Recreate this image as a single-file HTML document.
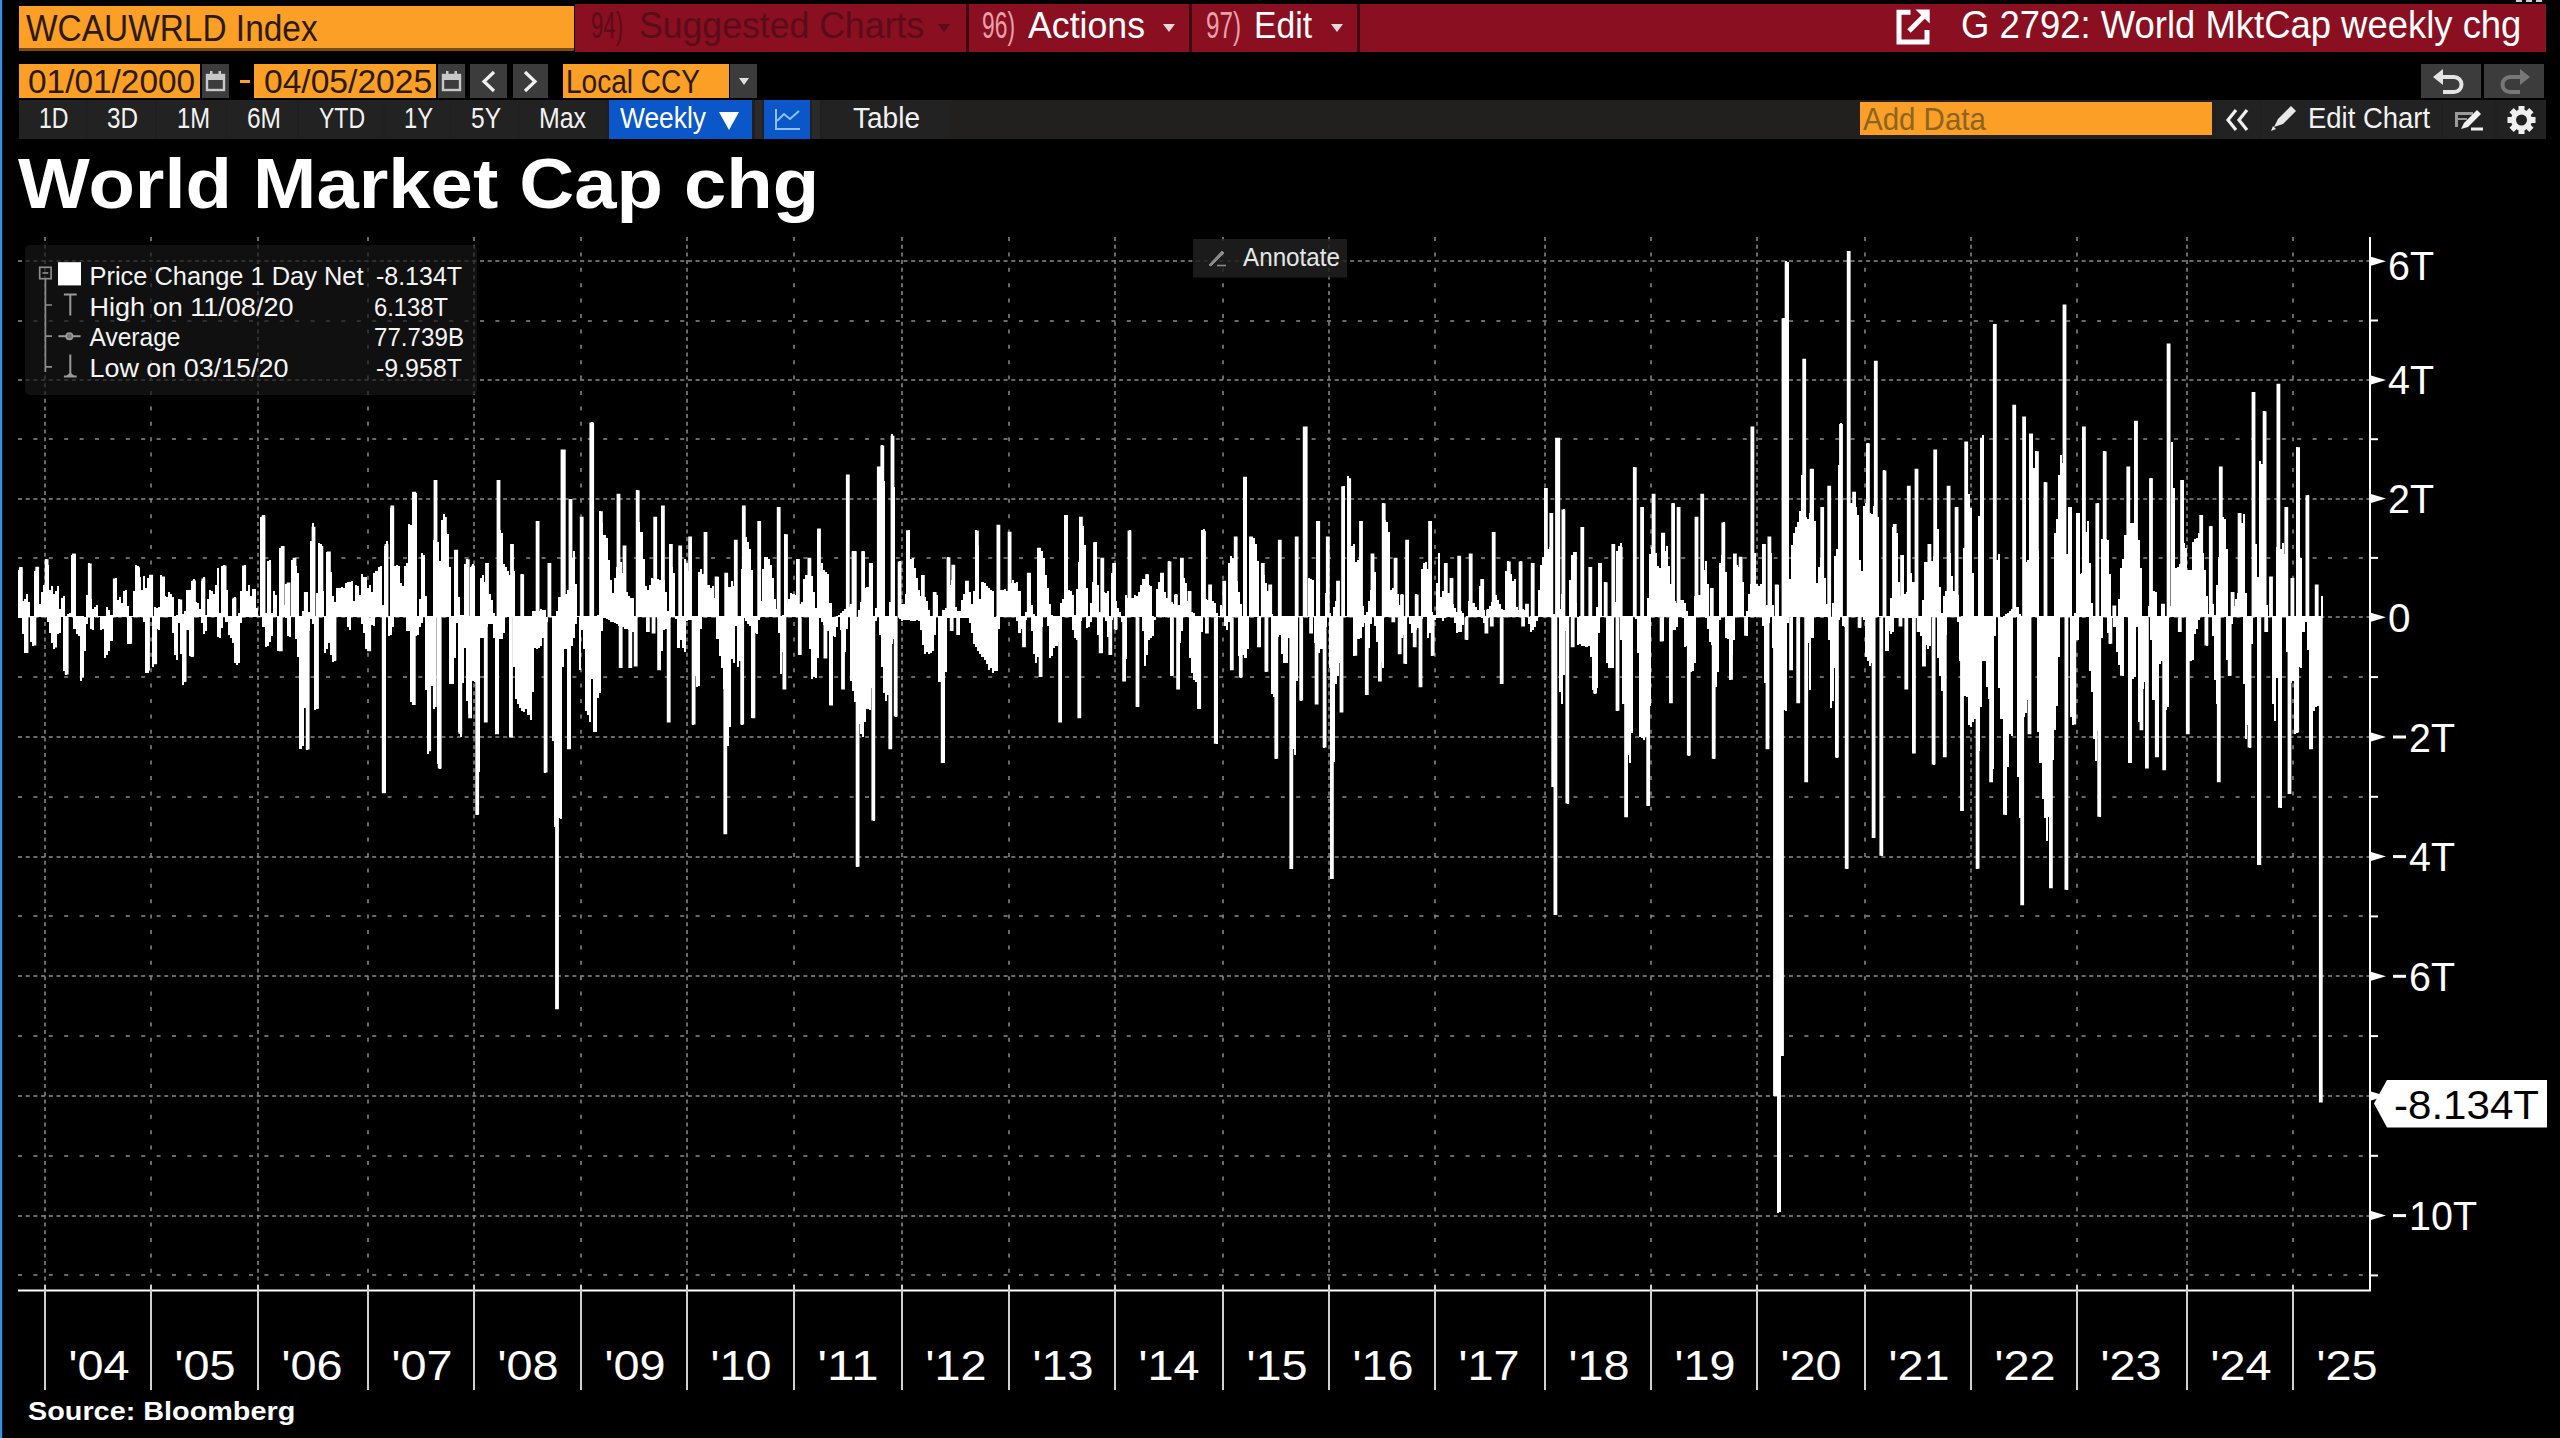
<!DOCTYPE html>
<html lang="en"><head><meta charset="utf-8"><title>WCAUWRLD Index - World Market Cap chg</title>
<style>
html,body{margin:0;padding:0;background:#000;}
body{width:2560px;height:1438px;position:relative;overflow:hidden;font-family:"Liberation Sans",sans-serif;}
.b{position:absolute;overflow:hidden;}
.b>svg{display:block;}
.t{position:absolute;white-space:pre;line-height:1;transform-origin:0 0;}
.tri{position:absolute;width:0;height:0;border-style:solid;border-color:transparent;border-width:8px 6px 0 6px;}
#strip{position:absolute;left:0;top:0;width:2px;height:1438px;background:#3b8fdb;border-right:1px solid #0a1a3a;}
</style></head><body>
<div id="strip"></div>
<!-- top command bar -->
<div class="b" style="left:575px;top:4px;width:1971px;height:48px;background:#8a0f20;"></div>
<div class="b" style="left:19px;top:6px;width:555px;height:42px;background:#fb9f26;border-bottom:3px solid #7a4a10;"></div>
<span class="t" style="left:26.0px;top:10.7px;font-size:36.3px;color:#2b1a05;transform:scaleX(0.921);">WCAUWRLD Index</span>
<div class="b" style="left:966px;top:4px;width:3px;height:48px;background:#3d0810;"></div>
<div class="b" style="left:1189px;top:4px;width:3px;height:48px;background:#3d0810;"></div>
<div class="b" style="left:1357px;top:4px;width:3px;height:48px;background:#3d0810;"></div>
<span class="t" style="left:591.0px;top:6.5px;font-size:37.8px;color:#5b0c1a;transform:scaleX(0.586);">94)</span>
<span class="t" style="left:639.0px;top:6.5px;font-size:37.8px;color:#5b0c1a;transform:scaleX(0.942);">Suggested Charts</span>
<div class="tri" style="left:938px;top:24px;border-top-color:#5b0c1a"></div>
<span class="t" style="left:982.0px;top:6.5px;font-size:37.8px;color:#e8a0a8;transform:scaleX(0.604);">96)</span>
<span class="t" style="left:1028.0px;top:6.5px;font-size:37.8px;color:#ffffff;transform:scaleX(0.944);">Actions</span>
<div class="tri" style="left:1163px;top:24px;border-top-color:#e6d8d8"></div>
<span class="t" style="left:1206.0px;top:6.5px;font-size:37.8px;color:#e8a0a8;transform:scaleX(0.641);">97)</span>
<span class="t" style="left:1254.0px;top:6.5px;font-size:37.8px;color:#ffffff;transform:scaleX(0.891);">Edit</span>
<div class="tri" style="left:1331px;top:24px;border-top-color:#e6d8d8"></div>
<svg class="b" style="left:1896px;top:9px" width="36" height="37" viewBox="0 0 36 37"><path d="M14.5 3.2H3V33H31V21" fill="none" stroke="#fff" stroke-width="5"/><path d="M13 22L30 5" stroke="#fff" stroke-width="5" fill="none"/><path d="M19.5 0.6H33.7V14.5z" fill="#fff"/></svg>
<span class="t" style="left:1960.5px;top:6.1px;font-size:38.7px;color:#ffffff;transform:scaleX(0.942);">G 2792: World MktCap weekly chg</span>
<div class="b" style="left:2516px;top:0px;width:6px;height:2px;background:#cfcfcf;"></div>
<div class="b" style="left:2525.5px;top:0px;width:6.0px;height:2px;background:#cfcfcf;"></div>
<div class="b" style="left:2535.5px;top:0px;width:6.0px;height:2px;background:#cfcfcf;"></div>
<!-- date row -->
<div class="b" style="left:19px;top:64px;width:181px;height:34px;background:#fb9f26;"></div>
<span class="t" style="left:28.0px;top:65.6px;font-size:32.6px;color:#2b1a05;transform:scaleX(1.025);">01/01/2000</span>
<div class="b" style="left:202px;top:64px;width:27px;height:34px;background:#3c3c3c;"><svg width="27" height="34" viewBox="0 0 27 34"><rect x="5" y="11" width="17" height="15" fill="none" stroke="#c8c8c8" stroke-width="2.4"/><rect x="5" y="11" width="17" height="5" fill="#c8c8c8"/><rect x="8" y="7" width="2.5" height="5" fill="#c8c8c8"/><rect x="16.5" y="7" width="2.5" height="5" fill="#c8c8c8"/></svg></div>
<div class="b" style="left:240px;top:80px;width:10px;height:3px;background:#fb9f26;"></div>
<div class="b" style="left:254px;top:64px;width:182px;height:34px;background:#fb9f26;"></div>
<span class="t" style="left:264.0px;top:65.6px;font-size:32.6px;color:#2b1a05;transform:scaleX(1.031);">04/05/2025</span>
<div class="b" style="left:438px;top:64px;width:27px;height:34px;background:#3c3c3c;"><svg width="27" height="34" viewBox="0 0 27 34"><rect x="5" y="11" width="17" height="15" fill="none" stroke="#c8c8c8" stroke-width="2.4"/><rect x="5" y="11" width="17" height="5" fill="#c8c8c8"/><rect x="8" y="7" width="2.5" height="5" fill="#c8c8c8"/><rect x="16.5" y="7" width="2.5" height="5" fill="#c8c8c8"/></svg></div>
<div class="b" style="left:470px;top:64px;width:37px;height:34px;background:#3c3c3c;"><svg width="37" height="34" viewBox="0 0 37 34"><path d="M24 8L14 17.5L24 27" fill="none" stroke="#f0f0f0" stroke-width="3.2"/></svg></div>
<div class="b" style="left:513px;top:64px;width:35px;height:34px;background:#3c3c3c;"><svg width="35" height="34" viewBox="0 0 35 34"><path d="M12 8L22 17.5L12 27" fill="none" stroke="#f0f0f0" stroke-width="3.2"/></svg></div>
<div class="b" style="left:563px;top:64px;width:166px;height:34px;background:#fb9f26;"></div>
<span class="t" style="left:566.0px;top:65.6px;font-size:32.6px;color:#2b1a05;transform:scaleX(0.861);">Local CCY</span>
<div class="b" style="left:730px;top:64px;width:27px;height:34px;background:#3c3c3c;"></div>
<div class="tri" style="left:739px;top:78px;border-top-color:#e0e0e0;border-width:7px 5px 0 5px"></div>
<div class="b" style="left:2421px;top:64px;width:60px;height:34px;background:#3c3c3c;"><svg width="60" height="34" viewBox="0 0 60 34"><path d="M19 13H33a7.5 7.5 0 0 1 0 15H22" fill="none" stroke="#e4e4e4" stroke-width="4"/><path d="M12 13L22 5V21z" fill="#e4e4e4"/></svg></div>
<div class="b" style="left:2484px;top:64px;width:60px;height:34px;background:#3c3c3c;"><svg width="60" height="34" viewBox="0 0 60 34"><path d="M39 13H26a7.5 7.5 0 0 0 0 15H36" fill="none" stroke="#787878" stroke-width="4"/><path d="M46 13L36 5V21z" fill="#787878"/></svg></div>
<!-- tab row -->
<div class="b" style="left:19px;top:100px;width:2527px;height:38.5px;background:#21201e;"></div>
<div class="b" style="left:19px;top:100px;width:67px;height:38.5px;background:#222222;"></div>
<span class="t" style="left:38.5px;top:104.4px;font-size:29.1px;color:#f2f2f2;transform:scaleX(0.794);">1D</span>
<div class="b" style="left:88px;top:100px;width:67px;height:38.5px;background:#222222;"></div>
<span class="t" style="left:107.0px;top:104.4px;font-size:29.1px;color:#f2f2f2;transform:scaleX(0.834);">3D</span>
<div class="b" style="left:157px;top:100px;width:69px;height:38.5px;background:#222222;"></div>
<span class="t" style="left:177.0px;top:104.4px;font-size:29.1px;color:#f2f2f2;transform:scaleX(0.817);">1M</span>
<div class="b" style="left:228px;top:100px;width:69px;height:38.5px;background:#222222;"></div>
<span class="t" style="left:247.0px;top:104.4px;font-size:29.1px;color:#f2f2f2;transform:scaleX(0.842);">6M</span>
<div class="b" style="left:299px;top:100px;width:84px;height:38.5px;background:#222222;"></div>
<span class="t" style="left:319.0px;top:104.4px;font-size:29.1px;color:#f2f2f2;transform:scaleX(0.791);">YTD</span>
<div class="b" style="left:385px;top:100px;width:65px;height:38.5px;background:#222222;"></div>
<span class="t" style="left:404.0px;top:104.4px;font-size:29.1px;color:#f2f2f2;transform:scaleX(0.816);">1Y</span>
<div class="b" style="left:452px;top:100px;width:66px;height:38.5px;background:#222222;"></div>
<span class="t" style="left:471.0px;top:104.4px;font-size:29.1px;color:#f2f2f2;transform:scaleX(0.844);">5Y</span>
<div class="b" style="left:520px;top:100px;width:86px;height:38.5px;background:#222222;"></div>
<span class="t" style="left:539.0px;top:104.4px;font-size:29.1px;color:#f2f2f2;transform:scaleX(0.856);">Max</span>
<div class="b" style="left:609px;top:100px;width:143px;height:38.5px;background:#0b57c9;"></div>
<span class="t" style="left:620.0px;top:104.4px;font-size:29.1px;color:#ffffff;transform:scaleX(0.907);">Weekly</span>
<div class="tri" style="left:719px;top:112px;border-top-color:#fff;border-width:18px 10px 0 10px"></div>
<div class="b" style="left:755px;top:100px;width:7px;height:38.5px;background:#2a2a2a;"></div>
<div class="b" style="left:764px;top:100px;width:46px;height:38.5px;background:#0b57c9;"><svg width="46" height="39" viewBox="0 0 46 39"><path d="M12 9V29H36" fill="none" stroke="#8fc0ff" stroke-width="2"/><path d="M13 21L20 14L26 19L35 11" fill="none" stroke="#8fc0ff" stroke-width="2"/></svg></div>
<div class="b" style="left:812px;top:100px;width:8px;height:38.5px;background:#2a2a2a;"></div>
<div class="b" style="left:823px;top:100px;width:128px;height:38.5px;background:#222222;"></div>
<span class="t" style="left:853.0px;top:104.4px;font-size:29.1px;color:#f2f2f2;transform:scaleX(0.964);">Table</span>
<div class="b" style="left:1860px;top:102px;width:352px;height:33px;background:#fb9f26;"></div>
<span class="t" style="left:1863.0px;top:104.2px;font-size:30.5px;color:#8a6420;transform:scaleX(0.966);">Add Data</span>
<div class="b" style="left:2216px;top:100px;width:43px;height:38.5px;background:#222222;"><svg width="43" height="39" viewBox="0 0 43 39"><path d="M20 10L12 20L20 30M31 10L23 20L31 30" fill="none" stroke="#f0f0f0" stroke-width="3.2"/></svg></div>
<div class="b" style="left:2262px;top:100px;width:179px;height:38.5px;background:#222222;"><svg width="40" height="39" viewBox="0 0 40 39"><path d="M12 27L16 19L29 6L34 11L21 24z" fill="#e8e8e8"/><path d="M9 31L11 26L14 29z" fill="#e8e8e8"/></svg></div>
<span class="t" style="left:2308.0px;top:104.4px;font-size:29.1px;color:#f2f2f2;transform:scaleX(0.944);">Edit Chart</span>
<div class="b" style="left:2443px;top:100px;width:51px;height:38.5px;background:#222222;"><svg width="51" height="39" viewBox="0 0 51 39"><path d="M12 12H30V15H15V27H12z" fill="#9a9a9a"/><path d="M12 19H24" stroke="#9a9a9a" stroke-width="2"/><path d="M18 29L21 23L34 10L38 14L25 27z" fill="#f0f0f0"/><path d="M28 29H40" stroke="#f0f0f0" stroke-width="3"/></svg></div>
<div class="b" style="left:2497px;top:100px;width:49px;height:38.5px;background:#222222;"><svg width="49" height="39" viewBox="0 0 49 39"><g transform="translate(24.5,20)"><g fill="#f0f0f0"><rect x="-3" y="-14" width="6" height="8" transform="rotate(0)"/><rect x="-3" y="-14" width="6" height="8" transform="rotate(45)"/><rect x="-3" y="-14" width="6" height="8" transform="rotate(90)"/><rect x="-3" y="-14" width="6" height="8" transform="rotate(135)"/><rect x="-3" y="-14" width="6" height="8" transform="rotate(180)"/><rect x="-3" y="-14" width="6" height="8" transform="rotate(225)"/><rect x="-3" y="-14" width="6" height="8" transform="rotate(270)"/><rect x="-3" y="-14" width="6" height="8" transform="rotate(315)"/></g><circle r="8" fill="none" stroke="#f0f0f0" stroke-width="5"/></g></svg></div>
<!-- title -->
<span class="t" style="left:18.0px;top:149.2px;font-size:70.6px;color:#ffffff;transform:scaleX(1.077);font-weight:bold;">World Market Cap chg</span>
<svg class="b" id="chart" style="left:0;top:0" width="2560" height="1438" viewBox="0 0 2560 1438" font-family="Liberation Sans, sans-serif">
<g stroke="#8c8c8c" fill="none">
<path d="M45 237V1290" stroke-width="1.5" stroke-dasharray="4 3.7"/>
<path d="M151 237V1290" stroke-width="1.5" stroke-dasharray="4 11.4"/>
<path d="M258 237V1290" stroke-width="1.5" stroke-dasharray="4 3.7"/>
<path d="M368 237V1290" stroke-width="1.5" stroke-dasharray="4 11.4"/>
<path d="M474 237V1290" stroke-width="1.5" stroke-dasharray="4 3.7"/>
<path d="M581 237V1290" stroke-width="1.5" stroke-dasharray="4 11.4"/>
<path d="M687 237V1290" stroke-width="1.5" stroke-dasharray="4 3.7"/>
<path d="M794 237V1290" stroke-width="1.5" stroke-dasharray="4 11.4"/>
<path d="M902 237V1290" stroke-width="1.5" stroke-dasharray="4 3.7"/>
<path d="M1009 237V1290" stroke-width="1.5" stroke-dasharray="4 11.4"/>
<path d="M1115 237V1290" stroke-width="1.5" stroke-dasharray="4 3.7"/>
<path d="M1223 237V1290" stroke-width="1.5" stroke-dasharray="4 11.4"/>
<path d="M1329 237V1290" stroke-width="1.5" stroke-dasharray="4 3.7"/>
<path d="M1435 237V1290" stroke-width="1.5" stroke-dasharray="4 11.4"/>
<path d="M1545 237V1290" stroke-width="1.5" stroke-dasharray="4 3.7"/>
<path d="M1651 237V1290" stroke-width="1.5" stroke-dasharray="4 11.4"/>
<path d="M1757 237V1290" stroke-width="1.5" stroke-dasharray="4 3.7"/>
<path d="M1865 237V1290" stroke-width="1.5" stroke-dasharray="4 11.4"/>
<path d="M1971 237V1290" stroke-width="1.5" stroke-dasharray="4 3.7"/>
<path d="M2077 237V1290" stroke-width="1.5" stroke-dasharray="4 11.4"/>
<path d="M2187 237V1290" stroke-width="1.5" stroke-dasharray="4 3.7"/>
<path d="M2293 237V1290" stroke-width="1.5" stroke-dasharray="4 11.4"/>
<path d="M18 261H2370" stroke-width="1.5" stroke-dasharray="4 3.7"/>
<path d="M18 321H2370" stroke-width="1.5" stroke-dasharray="4 11.4"/>
<path d="M18 380H2370" stroke-width="1.5" stroke-dasharray="4 3.7"/>
<path d="M18 439H2370" stroke-width="1.5" stroke-dasharray="4 11.4"/>
<path d="M18 499H2370" stroke-width="1.5" stroke-dasharray="4 3.7"/>
<path d="M18 558H2370" stroke-width="1.5" stroke-dasharray="4 11.4"/>
<path d="M18 617H2370" stroke-width="1.5" stroke-dasharray="4 3.7"/>
<path d="M18 677H2370" stroke-width="1.5" stroke-dasharray="4 11.4"/>
<path d="M18 737H2370" stroke-width="1.5" stroke-dasharray="4 3.7"/>
<path d="M18 797H2370" stroke-width="1.5" stroke-dasharray="4 11.4"/>
<path d="M18 857H2370" stroke-width="1.5" stroke-dasharray="4 3.7"/>
<path d="M18 916H2370" stroke-width="1.5" stroke-dasharray="4 11.4"/>
<path d="M18 976H2370" stroke-width="1.5" stroke-dasharray="4 3.7"/>
<path d="M18 1036H2370" stroke-width="1.5" stroke-dasharray="4 11.4"/>
<path d="M18 1096H2370" stroke-width="1.5" stroke-dasharray="4 3.7"/>
<path d="M18 1156H2370" stroke-width="1.5" stroke-dasharray="4 11.4"/>
<path d="M18 1216H2370" stroke-width="1.5" stroke-dasharray="4 3.7"/>
<path d="M18 1275H2370" stroke-width="1.5" stroke-dasharray="4 11.4"/>
</g>
<path fill="#ffffff" shape-rendering="crispEdges" d="M18 570H20V618H18zM20 567H22V618H20zM22 601H24V634H22zM24 599H26V653H24zM26 594H28V653H26zM28 602H30V617H28zM30 616H32V642H30zM32 616H34V646H32zM34 571H36V617H34zM36 567H39V617H36zM39 604H41V617H39zM41 592H43V617H41zM43 585H45V617H43zM45 559H47V617H45zM47 565H49V622H47zM49 590H51V633H49zM51 586H53V643H51zM53 594H55V649H53zM55 591H57V647H55zM57 586H59V634H57zM59 609H61V633H59zM61 598H63V617H61zM63 596H65V671H63zM65 616H67V675H65zM67 614H69V617H67zM69 613H71V617H69zM71 555H73V617H71zM73 554H76V629H73zM76 616H78V634H76zM78 616H80V636H78zM80 616H82V681H80zM82 616H84V677H82zM84 617H86V651H84zM86 595H88V624H86zM88 563H90V617H88zM90 599H92V629H90zM92 609H94V630H92zM94 607H96V617H94zM96 605H98V617H96zM98 616H100V617H98zM100 616H102V630H100zM102 616H104V629H102zM104 616H106V658H104zM106 607H108V655H106zM108 610H110V651H108zM110 615H113V641H110zM113 581H115V617H113zM115 578H117V617H115zM117 600H119V617H117zM119 597H121V617H119zM121 603H123V617H121zM123 591H125V617H123zM125 590H127V617H125zM127 606H129V644H127zM129 616H131V644H129zM131 616H133V617H131zM133 591H135V617H133zM135 565H137V617H135zM137 566H139V617H137zM139 577H141V617H139zM141 590H143V617H141zM143 576H145V622H143zM145 588H147V673H145zM147 578H149V673H147zM149 575H152V617H149zM152 616H154V667H152zM154 607H156V664H154zM156 608H158V629H156zM158 607H160V630H158zM160 575H162V617H160zM162 577H164V617H162zM164 596H166V617H164zM166 597H168V617H166zM168 592H170V617H168zM170 594H172V617H170zM172 597H174V633H172zM174 616H176V655H174zM176 615H178V660H176zM178 599H180V623H178zM180 600H182V654H180zM182 614H184V685H182zM184 611H186V682H184zM186 590H189V630H186zM189 590H191V656H189zM191 581H193V657H191zM193 579H195V617H193zM195 602H197V617H195zM197 603H199V617H197zM199 609H201V617H199zM201 581H203V623H201zM203 577H205V634H203zM205 615H207V631H205zM207 599H209V617H207zM209 590H211V617H209zM211 591H213V617H211zM213 594H215V617H213zM215 585H217V617H215zM217 568H219V637H217zM219 613H221V638H219zM221 566H223V628H221zM223 565H225V617H223zM225 590H228V622H225zM228 616H230V635H228zM230 616H232V638H230zM232 599H234V643H232zM234 597H236V663H234zM236 616H238V665H236zM238 613H240V663H238zM240 591H242V623H240zM242 566H244V617H242zM244 565H246V617H244zM246 591H248V617H246zM248 585H250V617H248zM250 596H252V617H250zM252 589H254V617H252zM254 589H256V617H254zM256 608H258V617H256zM258 616H260V617H258zM260 517H262V617H260zM262 515H265V627H262zM265 613H267V647H265zM267 561H269V646H267zM269 560H271V642H269zM271 613H273V636H271zM273 591H275V617H273zM275 595H277V617H275zM277 616H279V651H277zM279 548H281V651H279zM281 546H283V617H281zM283 605H285V617H283zM285 584H287V618H285zM287 583H289V636H287zM289 616H291V637H289zM291 560H293V617H291zM293 558H295V617H293zM295 566H297V639H295zM297 573H299V657H297zM299 616H302V749H299zM302 611H304V746H302zM304 592H306V708H304zM306 592H308V750H306zM308 612H310V631H308zM310 541H312V619H310zM312 523H314V624H312zM314 616H316V710H314zM316 593H318V709H316zM318 543H320V617H318zM320 544H322V617H320zM322 591H324V617H322zM324 616H326V653H324zM326 552H328V649H326zM328 552H330V643H328zM330 572H332V655H330zM332 596H334V662H332zM334 602H336V661H334zM336 588H338V617H336zM338 588H341V617H338zM341 587H343V617H341zM343 588H345V617H343zM345 583H347V617H345zM347 582H349V627H347zM349 582H351V630H349zM351 581H353V617H351zM353 601H355V617H353zM355 585H357V617H355zM357 586H359V617H357zM359 595H361V617H359zM361 574H363V624H361zM363 577H365V633H363zM365 577H367V649H365zM367 588H369V651H367zM369 585H371V617H369zM371 592H373V625H371zM373 573H375V626H373zM375 571H378V617H375zM378 567H380V617H378zM380 566H382V617H380zM382 605H384V793H382zM384 546H386V793H384zM386 541H388V617H386zM388 616H390V636H388zM390 508H392V635H390zM392 506H394V627H392zM394 566H396V617H394zM396 565H398V617H396zM398 566H400V617H398zM400 583H402V617H400zM402 586H404V617H402zM404 566H406V617H404zM406 563H408V631H406zM408 524H410V631H408zM410 525H412V702H410zM412 492H414V705H412zM414 493H417V636H414zM417 616H419V635H417zM419 599H421V627H419zM421 553H423V623H421zM423 555H425V617H423zM425 596H427V690H425zM427 616H429V754H427zM429 616H431V751H429zM431 616H433V686H431zM433 540H435V709H433zM435 480H437V617H435zM437 542H439V764H437zM439 561H441V769H439zM441 520H443V617H441zM443 514H445V617H443zM445 533H447V617H445zM447 534H449V617H447zM449 567H451V684H449zM451 616H454V684H451zM454 550H456V658H454zM456 550H458V623H456zM458 597H460V732H458zM460 615H462V737H460zM462 615H464V683H462zM464 564H466V648H464zM466 559H468V701H466zM468 616H470V714H468zM470 567H472V718H470zM472 564H474V681H472zM474 616H476V682H474zM476 616H478V815H476zM478 616H480V772H478zM480 578H482V638H480zM482 575H484V638H482zM484 582H486V722H484zM486 563H488V627H486zM488 594H491V624H488zM491 600H493V624H491zM493 613H495V638H493zM495 616H497V639H495zM497 480H499V734H497zM499 530H501V639H499zM501 533H503V639H501zM503 564H505V633H503zM505 567H507V617H505zM507 571H509V617H507zM509 575H511V737H509zM511 544H513V617H511zM513 571H515V667H513zM515 616H517V699H515zM517 616H519V704H517zM519 616H521V708H519zM521 574H523V711H521zM523 616H525V712H523zM525 616H527V709H525zM527 616H530V715H527zM530 616H532V720H530zM532 611H534V692H532zM534 611H536V648H534zM536 521H538V649H536zM538 611H540V648H538zM540 609H542V646H540zM542 610H544V638H542zM544 610H546V773H544zM546 617H548V622H546zM548 563H550V617H548zM550 616H552V617H550zM552 616H554V741H552zM554 616H556V827H554zM556 611H558V1009H556zM558 597H560V818H558zM560 597H562V819H560zM562 450H564V667H562zM564 594H567V649H564zM567 590H569V709H567zM569 499H571V749H569zM571 558H573V646H571zM573 551H575V638H573zM575 584H577V624H575zM577 616H579V617H577zM579 616H581V670H579zM581 517H583V630H581zM583 616H585V649H583zM585 616H587V711H585zM587 616H589V715H587zM589 616H591V722H589zM591 422H593V679H591zM593 616H595V732H593zM595 616H597V691H595zM597 615H599V698H597zM599 511H601V693H599zM601 523H603V631H601zM603 535H606V618H603zM606 538H608V619H606zM608 560H610V620H608zM610 580H612V622H610zM612 593H614V622H612zM614 578H616V623H614zM616 567H618V624H616zM618 494H620V626H618zM620 562H622V668H620zM622 573H624V627H622zM624 546H626V629H624zM626 592H628V629H626zM628 596H630V630H628zM630 598H632V668H630zM632 598H634V632H632zM634 616H636V666H634zM636 490H638V617H636zM638 522H640V617H638zM640 532H643V617H640zM643 559H645V617H643zM645 586H647V617H645zM647 590H649V632H647zM649 585H651V617H649zM651 578H653V617H651zM653 579H655V633H653zM655 517H657V617H655zM657 579H659V619H657zM659 580H661V670H659zM661 506H663V651H661zM663 580H665V630H663zM665 592H667V629H665zM667 611H669V722H667zM669 544H671V618H669zM671 567H673V617H671zM673 573H675V617H673zM675 616H677V619H675zM677 616H680V648H677zM680 546H682V640H680zM682 616H684V648H682zM684 559H686V652H684zM686 563H688V621H686zM688 571H690V620H688zM690 537H692V620H690zM692 616H694V725H692zM694 616H696V676H694zM696 616H698V687H696zM698 572H700V686H698zM700 569H702V629H700zM702 574H704V617H702zM704 532H706V617H704zM706 585H708V617H706zM708 585H710V617H708zM710 588H712V617H710zM712 586H714V617H712zM714 598H716V617H714zM716 577H719V639H716zM719 616H721V656H719zM721 616H723V668H721zM723 616H725V689H723zM725 573H727V834H725zM727 587H729V746H727zM729 587H731V727H729zM731 581H733V659H731zM733 586H735V663H733zM735 540H737V626H735zM737 616H739V667H737zM739 616H741V661H739zM741 569H743V725H741zM743 506H745V618H743zM745 537H747V621H745zM747 542H749V624H747zM749 549H751V626H749zM751 570H753V718H751zM753 616H756V633H753zM756 616H758V634H756zM758 521H760V620H758zM760 601H762V617H760zM762 569H764V617H762zM764 557H766V617H764zM766 557H768V617H766zM768 559H770V617H768zM770 565H772V617H770zM772 578H774V617H772zM774 599H776V617H774zM776 609H778V617H776zM778 507H780V633H778zM780 616H782V674H780zM782 615H784V652H782zM784 534H786V689H784zM786 603H788V617H786zM788 599H790V617H788zM790 593H792V617H790zM792 594H795V617H792zM795 595H797V617H795zM797 559H799V617H797zM799 604H801V655H799zM801 602H803V617H801zM803 579H805V617H803zM805 575H807V617H805zM807 575H809V617H807zM809 558H811V649H809zM811 576H813V679H811zM813 592H815V677H813zM815 608H817V678H815zM817 529H819V658H817zM819 571H821V618H819zM821 563H823V622H821zM823 570H825V625H823zM825 572H827V658H825zM827 574H829V631H827zM829 603H832V705H829zM832 617H834V636H832zM834 617H836V637H834zM836 616H838V627H836zM838 615H840V617H838zM840 613H842V630H840zM842 611H844V689H842zM844 609H846V652H844zM846 475H848V629H846zM848 607H850V617H848zM850 604H852V681H850zM852 551H854V691H852zM854 551H856V702H854zM856 617H858V867H856zM858 610H860V724H858zM860 602H862V734H860zM862 551H864V737H862zM864 588H866V722H864zM866 587H869V709H866zM869 596H871V710H869zM871 563H873V688H871zM873 616H875V821H873zM875 608H877V621H875zM877 547H879V617H877zM879 467H881V635H879zM881 445H883V667H881zM883 481H885V693H883zM885 616H887V701H885zM887 616H889V695H887zM889 602H891V749H889zM891 434H893V644H891zM893 487H895V639H893zM895 616H897V717H895zM897 617H899V617H897zM899 561H901V619H899zM901 604H903V621H901zM903 604H905V620H903zM905 594H908V620H905zM908 530H910V620H908zM910 559H912V621H910zM912 558H914V621H912zM914 568H916V621H914zM916 578H918V620H916zM918 590H920V621H918zM920 596H922V630H920zM922 575H924V645H922zM924 597H926V654H924zM926 601H928V652H926zM928 610H930V654H928zM930 616H932V653H930zM932 616H934V651H932zM934 592H936V635H934zM936 595H938V617H936zM938 616H940V682H938zM940 616H942V682H940zM942 610H945V763H942zM945 608H947V672H945zM947 557H949V618H947zM949 585H951V618H949zM951 580H953V631H951zM953 565H955V618H953zM955 607H957V618H955zM957 611H959V635H957zM959 611H961V618H959zM961 600H963V618H961zM963 594H965V618H963zM965 581H967V618H965zM967 592H969V618H967zM969 592H971V623H969zM971 604H973V633H971zM973 591H975V644H973zM975 530H977V647H975zM977 545H979V651H977zM979 599H981V654H979zM981 582H984V657H981zM984 583H986V660H984zM986 586H988V664H986zM988 588H990V670H988zM990 590H992V668H990zM992 591H994V673H992zM994 617H996V671H994zM996 616H998V671H996zM998 525H1000V629H998zM1000 590H1002V617H1000zM1002 590H1004V617H1002zM1004 589H1006V617H1004zM1006 591H1008V617H1006zM1008 532H1010V617H1008zM1010 583H1012V617H1010zM1012 580H1014V617H1012zM1014 583H1016V617H1014zM1016 582H1018V621H1016zM1018 591H1021V633H1018zM1021 616H1023V629H1021zM1023 616H1025V647H1023zM1025 612H1027V620H1025zM1027 610H1029V617H1027zM1029 573H1031V617H1029zM1031 605H1033V631H1031zM1033 614H1035V654H1033zM1035 616H1037V663H1035zM1037 548H1039V657H1037zM1039 548H1041V677H1039zM1041 551H1043V627H1041zM1043 558H1045V617H1043zM1045 575H1047V617H1045zM1047 588H1049V626H1047zM1049 604H1051V658H1049zM1051 615H1053V656H1051zM1053 616H1055V648H1053zM1055 616H1058V646H1055zM1058 616H1060V642H1058zM1060 603H1062V722H1060zM1062 599H1064V617H1062zM1064 596H1066V617H1064zM1066 515H1068V617H1066zM1068 590H1070V617H1068zM1070 591H1072V617H1070zM1072 595H1074V630H1072zM1074 615H1076V638H1074zM1076 589H1078V640H1076zM1078 562H1080V718H1078zM1080 517H1082V621H1080zM1082 526H1084V617H1082zM1084 545H1086V617H1084zM1086 588H1088V628H1086zM1088 616H1090V627H1088zM1090 603H1092V622H1090zM1092 582H1094V617H1092zM1094 542H1097V617H1094zM1097 585H1099V635H1097zM1099 612H1101V630H1099zM1101 558H1103V653H1101zM1103 592H1105V617H1103zM1105 593H1107V621H1105zM1107 591H1109V637H1107zM1109 616H1111V655H1109zM1111 573H1113V620H1111zM1113 563H1115V617H1113zM1115 601H1117V630H1115zM1117 608H1119V617H1117zM1119 612H1121V617H1119zM1121 616H1123V622H1121zM1123 616H1125V681H1123zM1125 595H1127V659H1125zM1127 598H1129V617H1127zM1129 530H1131V617H1129zM1131 598H1134V617H1131zM1134 595H1136V617H1134zM1136 596H1138V707H1136zM1138 592H1140V617H1138zM1140 585H1142V617H1140zM1142 579H1144V631H1142zM1144 579H1146V666H1144zM1146 574H1148V655H1146zM1148 585H1150V640H1148zM1150 586H1152V638H1150zM1152 616H1154V636H1152zM1154 617H1156V620H1154zM1156 589H1158V617H1156zM1158 582H1160V617H1158zM1160 573H1162V617H1160zM1162 587H1164V617H1162zM1164 592H1166V617H1164zM1166 598H1168V617H1166zM1168 561H1170V617H1168zM1170 602H1173V676H1170zM1173 604H1175V617H1173zM1175 594H1177V617H1175zM1177 605H1179V689H1177zM1179 605H1181V643H1179zM1181 558H1183V631H1181zM1183 578H1185V617H1183zM1185 583H1187V617H1185zM1187 601H1189V617H1187zM1189 591H1191V658H1189zM1191 612H1193V673H1191zM1193 613H1195V680H1193zM1195 616H1197V682H1195zM1197 616H1199V709H1197zM1199 616H1201V655H1199zM1201 530H1203V632H1201zM1203 529H1205V617H1203zM1205 599H1207V633H1205zM1207 600H1210V617H1207zM1210 585H1212V617H1210zM1212 601H1214V617H1212zM1214 603H1216V617H1214zM1216 613H1218V744H1216zM1218 616H1220V617H1218zM1220 605H1222V617H1220zM1222 609H1224V617H1222zM1224 581H1226V626H1224zM1226 616H1228V630H1226zM1228 563H1230V622H1228zM1230 556H1232V670H1230zM1232 558H1234V617H1232zM1234 537H1236V617H1234zM1236 581H1238V617H1236zM1238 592H1240V656H1238zM1240 604H1242V678H1240zM1242 616H1244V655H1242zM1244 477H1247V658H1244zM1247 616H1249V649H1247zM1249 540H1251V617H1249zM1251 537H1253V617H1251zM1253 538H1255V617H1253zM1255 544H1257V617H1255zM1257 561H1259V617H1257zM1259 616H1261V647H1259zM1261 563H1263V617H1261zM1263 575H1265V617H1263zM1265 583H1267V672H1265zM1267 591H1269V617H1267zM1269 585H1271V617H1269zM1271 614H1273V694H1271zM1273 616H1275V697H1273zM1275 616H1277V759H1275zM1277 616H1279V637H1277zM1279 540H1281V635H1279zM1281 616H1283V654H1281zM1283 616H1286V663H1283zM1286 616H1288V663H1286zM1288 616H1290V638H1288zM1290 616H1292V869H1290zM1292 616H1294V749H1292zM1294 616H1296V755H1294zM1296 537H1298V681H1296zM1298 616H1300V617H1298zM1300 616H1302V701H1300zM1302 616H1304V617H1302zM1304 427H1306V617H1304zM1306 616H1308V617H1306zM1308 578H1310V617H1308zM1310 579H1312V633H1310zM1312 580H1314V617H1312zM1314 616H1316V643H1314zM1316 521H1318V704H1316zM1318 616H1320V653H1318zM1320 616H1323V649H1320zM1323 616H1325V748H1323zM1325 593H1327V627H1325zM1327 537H1329V617H1327zM1329 613H1331V668H1329zM1331 616H1333V879H1331zM1333 607H1335V762H1333zM1335 601H1337V684H1335zM1337 581H1339V676H1337zM1339 616H1341V663H1339zM1341 616H1343V712H1341zM1343 486H1345V617H1343zM1345 616H1347V617H1345zM1347 476H1349V617H1347zM1349 481H1351V617H1349zM1351 546H1353V617H1351zM1353 544H1355V656H1353zM1355 562H1357V633H1355zM1357 560H1360V639H1357zM1360 521H1362V638H1360zM1362 606H1364V627H1362zM1364 615H1366V623H1364zM1366 612H1368V695H1366zM1368 601H1370V648H1368zM1370 590H1372V624H1370zM1372 554H1374V617H1372zM1374 572H1376V626H1374zM1376 616H1378V642H1376zM1378 616H1380V681H1378zM1380 616H1382V662H1380zM1382 503H1384V668H1382zM1384 520H1386V617H1384zM1386 522H1388V617H1386zM1388 532H1390V617H1388zM1390 590H1392V617H1390zM1392 588H1394V622H1392zM1394 558H1396V617H1394zM1396 594H1399V617H1396zM1399 605H1401V654H1399zM1401 594H1403V638H1401zM1403 616H1405V635H1403zM1405 616H1407V664H1405zM1407 540H1409V617H1407zM1409 616H1411V624H1409zM1411 616H1413V633H1411zM1413 616H1415V647H1413zM1415 594H1417V630H1415zM1417 616H1419V628H1417zM1419 616H1421V687H1419zM1421 569H1423V619H1421zM1423 563H1425V617H1423zM1425 562H1427V617H1425zM1427 569H1429V638H1427zM1429 521H1431V633H1429zM1431 612H1433V656H1431zM1433 615H1436V620H1433zM1436 583H1438V618H1436zM1438 553H1440V618H1438zM1440 597H1442V618H1440zM1442 591H1444V621H1442zM1444 563H1446V618H1444zM1446 593H1448V617H1446zM1448 593H1450V617H1448zM1450 578H1452V617H1450zM1452 604H1454V617H1452zM1454 608H1456V623H1454zM1456 612H1458V633H1456zM1458 556H1460V632H1458zM1460 611H1462V632H1460zM1462 613H1464V625H1462zM1464 617H1466V617H1464zM1466 616H1468V640H1466zM1468 601H1470V617H1468zM1470 554H1472V617H1470zM1472 603H1475V617H1472zM1475 607H1477V617H1475zM1477 610H1479V617H1477zM1479 586H1481V617H1479zM1481 579H1483V618H1481zM1483 610H1485V623H1483zM1485 616H1487V633H1485zM1487 609H1489V618H1487zM1489 606H1491V617H1489zM1491 602H1493V626H1491zM1493 532H1495V617H1493zM1495 595H1497V617H1495zM1497 600H1499V617H1497zM1499 604H1501V617H1499zM1501 609H1503V684H1501zM1503 610H1505V617H1503zM1505 571H1507V617H1505zM1507 561H1509V617H1507zM1509 574H1512V617H1509zM1512 581H1514V617H1512zM1514 579H1516V617H1514zM1516 607H1518V617H1516zM1518 610H1520V617H1518zM1520 561H1522V617H1520zM1522 609H1524V626H1522zM1524 610H1526V617H1524zM1526 604H1528V617H1526zM1528 617H1530V624H1528zM1530 616H1532V632H1530zM1532 563H1534V630H1532zM1534 616H1536V627H1534zM1536 616H1538V621H1536zM1538 590H1540V617H1538zM1540 565H1542V617H1540zM1542 557H1544V617H1542zM1544 488H1546V617H1544zM1546 549H1549V617H1546zM1549 547H1551V617H1549zM1551 513H1553V617H1551zM1553 614H1555V787H1553zM1555 616H1557V915H1555zM1557 438H1559V617H1557zM1559 609H1561V692H1559zM1561 594H1563V704H1561zM1563 509H1565V675H1563zM1565 616H1567V631H1565zM1567 616H1569V804H1567zM1569 580H1571V617H1569zM1571 555H1573V647H1571zM1573 552H1575V617H1573zM1575 603H1577V617H1575zM1577 617H1579V645H1577zM1579 616H1581V644H1579zM1581 527H1583V646H1581zM1583 616H1585V646H1583zM1585 616H1588V647H1585zM1588 616H1590V646H1588zM1590 567H1592V657H1590zM1592 616H1594V690H1592zM1594 616H1596V694H1594zM1596 607H1598V688H1596zM1598 609H1600V633H1598zM1600 563H1602V617H1600zM1602 616H1604V617H1602zM1604 582H1606V617H1604zM1606 616H1608V663H1606zM1608 616H1610V668H1608zM1610 616H1612V668H1610zM1612 544H1614V668H1612zM1614 602H1616V617H1614zM1616 551H1618V711H1616zM1618 546H1620V617H1618zM1620 543H1622V640H1620zM1622 616H1625V704H1622zM1625 616H1627V817H1625zM1627 616H1629V755H1627zM1629 616H1631V763H1629zM1631 616H1633V733H1631zM1633 467H1635V617H1633zM1635 616H1637V619H1635zM1637 616H1639V653H1637zM1639 616H1641V737H1639zM1641 507H1643V738H1641zM1643 616H1645V740H1643zM1645 616H1647V737H1645zM1647 598H1649V806H1647zM1649 554H1651V706H1649zM1651 547H1653V617H1651zM1653 494H1655V617H1653zM1655 553H1657V617H1655zM1657 566H1659V617H1657zM1659 568H1661V617H1659zM1661 533H1664V641H1661zM1664 551H1666V617H1664zM1666 546H1668V617H1666zM1668 566H1670V617H1668zM1670 584H1672V703H1670zM1672 503H1674V630H1672zM1674 601H1676V630H1674zM1676 603H1678V627H1676zM1678 507H1680V617H1678zM1680 600H1682V617H1680zM1682 600H1684V618H1682zM1684 603H1686V647H1684zM1686 611H1688V646H1686zM1688 616H1690V756H1688zM1690 616H1692V672H1690zM1692 616H1694V671H1692zM1694 596H1696V663H1694zM1696 517H1698V617H1696zM1698 595H1701V617H1698zM1701 494H1703V617H1701zM1703 570H1705V617H1703zM1705 561H1707V618H1705zM1707 584H1709V629H1707zM1709 616H1711V642H1709zM1711 588H1713V645H1711zM1713 616H1715V759H1713zM1715 616H1717V687H1715zM1717 616H1719V672H1717zM1719 563H1721V620H1719zM1721 555H1723V617H1721zM1723 522H1725V617H1723zM1725 572H1727V638H1725zM1727 616H1729V639H1727zM1729 616H1731V680H1729zM1731 616H1733V655H1731zM1733 554H1735V640H1733zM1735 565H1738V617H1735zM1738 567H1740V617H1738zM1740 557H1742V617H1740zM1742 582H1744V617H1742zM1744 616H1746V617H1744zM1746 611H1748V636H1746zM1748 594H1750V617H1748zM1750 584H1752V617H1750zM1752 427H1754V617H1752zM1754 553H1756V617H1754zM1756 584H1758V617H1756zM1758 586H1760V617H1758zM1760 584H1762V617H1760zM1762 544H1764V626H1762zM1764 608H1766V683H1764zM1766 605H1768V749H1766zM1768 537H1770V623H1768zM1770 553H1772V617H1770zM1772 605H1774V648H1772zM1774 616H1777V1096H1774zM1777 585H1779V1213H1777zM1779 616H1781V1212H1779zM1781 616H1783V1056H1781zM1783 318H1785V710H1783zM1785 261H1787V711H1785zM1787 262H1789V623H1787zM1789 579H1791V617H1789zM1791 545H1793V670H1791zM1793 533H1795V617H1793zM1795 527H1797V617H1795zM1797 522H1799V703H1797zM1799 511H1801V617H1799zM1801 475H1803V617H1801zM1803 359H1805V617H1803zM1805 517H1807V782H1805zM1807 519H1809V643H1807zM1809 513H1811V690H1809zM1811 469H1814V638H1811zM1814 521H1816V617H1814zM1816 583H1818V617H1816zM1818 567H1820V617H1818zM1820 558H1822V617H1820zM1822 507H1824V617H1822zM1824 578H1826V617H1824zM1826 604H1828V617H1826zM1828 486H1830V640H1828zM1830 617H1832V708H1830zM1832 603H1834V701H1832zM1834 556H1836V668H1834zM1836 549H1838V758H1836zM1838 465H1840V620H1838zM1840 423H1842V617H1840zM1842 616H1844V626H1842zM1844 616H1846V627H1844zM1846 616H1848V869H1846zM1848 251H1850V617H1848zM1850 503H1853V617H1850zM1853 492H1855V617H1853zM1855 507H1857V617H1855zM1857 515H1859V617H1857zM1859 560H1861V628H1859zM1861 571H1863V617H1861zM1863 506H1865V620H1863zM1865 503H1867V657H1865zM1867 443H1869V661H1867zM1869 513H1871V666H1869zM1871 514H1873V663H1871zM1873 506H1875V838H1873zM1875 361H1877V617H1875zM1877 517H1879V617H1877zM1879 616H1881V617H1879zM1881 616H1883V856H1881zM1883 470H1885V617H1883zM1885 616H1887V651H1885zM1887 616H1890V631H1887zM1890 598H1892V634H1890zM1892 527H1894V632H1892zM1894 524H1896V618H1894zM1896 533H1898V618H1896zM1898 582H1900V618H1898zM1900 596H1902V626H1900zM1902 555H1904V618H1902zM1904 594H1906V618H1904zM1906 592H1908V689H1906zM1908 486H1910V618H1908zM1910 573H1912V618H1910zM1912 582H1914V753H1912zM1914 582H1916V618H1914zM1916 469H1918V618H1916zM1918 616H1920V632H1918zM1920 616H1922V636H1920zM1922 600H1924V666H1922zM1924 562H1927V645H1924zM1927 562H1929V649H1927zM1929 544H1931V646H1929zM1931 561H1933V617H1931zM1933 556H1935V765H1933zM1935 450H1937V617H1935zM1937 529H1939V658H1937zM1939 587H1941V676H1939zM1941 613H1943V691H1941zM1943 596H1945V757H1943zM1945 591H1947V635H1945zM1947 486H1949V617H1947zM1949 553H1951V617H1949zM1951 576H1953V617H1951zM1953 591H1955V617H1953zM1955 507H1957V617H1955zM1957 595H1959V622H1957zM1959 617H1961V661H1959zM1961 616H1963V811H1961zM1963 548H1966V696H1963zM1966 442H1968V697H1966zM1968 494H1970V725H1968zM1970 508H1972V727H1970zM1972 573H1974V722H1972zM1974 616H1976V719H1974zM1976 616H1978V869H1976zM1978 516H1980V751H1978zM1980 438H1982V707H1980zM1982 435H1984V661H1982zM1984 616H1986V661H1984zM1986 616H1988V687H1986zM1988 616H1990V699H1988zM1990 616H1992V782H1990zM1992 616H1994V769H1992zM1994 324H1996V636H1994zM1996 560H1998V617H1996zM1998 554H2000V688H1998zM2000 617H2003V719H2000zM2003 616H2005V738H2003zM2005 614H2007V815H2005zM2007 613H2009V767H2007zM2009 611H2011V734H2009zM2011 609H2013V736H2011zM2013 405H2015V617H2013zM2015 607H2017V617H2015zM2017 607H2019V777H2017zM2019 614H2021V818H2019zM2021 616H2023V905H2021zM2023 417H2025V717H2023zM2025 562H2027V713H2025zM2027 560H2029V700H2027zM2029 434H2031V734H2029zM2031 482H2033V617H2031zM2033 468H2035V617H2033zM2035 451H2037V617H2035zM2037 551H2039V732H2037zM2039 616H2042V763H2039zM2042 616H2044V799H2042zM2044 482H2046V818H2044zM2046 616H2048V841H2046zM2048 616H2050V817H2048zM2050 616H2052V888H2050zM2052 616H2054V760H2052zM2054 533H2056V730H2054zM2056 519H2058V706H2056zM2058 475H2060V657H2058zM2060 455H2062V617H2060zM2062 463H2064V617H2062zM2064 305H2066V617H2064zM2066 554H2068V890H2066zM2068 507H2070V617H2068zM2070 602H2072V717H2070zM2072 616H2074V725H2072zM2074 613H2076V671H2074zM2076 513H2079V640H2076zM2079 574H2081V617H2079zM2081 573H2083V617H2081zM2083 427H2085V617H2083zM2085 532H2087V617H2085zM2087 521H2089V617H2087zM2089 563H2091V671H2089zM2091 603H2093V692H2091zM2093 616H2095V739H2093zM2095 616H2097V761H2095zM2097 503H2099V731H2097zM2099 616H2101V817H2099zM2101 539H2103V638H2101zM2103 451H2105V617H2103zM2105 539H2107V617H2105zM2107 540H2109V633H2107zM2109 574H2111V644H2109zM2111 616H2113V618H2111zM2113 606H2116V627H2113zM2116 616H2118V652H2116zM2118 599H2120V665H2118zM2120 568H2122V658H2120zM2122 559H2124V676H2122zM2124 535H2126V617H2124zM2126 535H2128V617H2126zM2128 467H2130V710H2128zM2130 523H2132V763H2130zM2132 523H2134V679H2132zM2134 421H2136V677H2134zM2136 537H2138V627H2136zM2138 540H2140V722H2138zM2140 568H2142V730H2140zM2142 616H2144V689H2142zM2144 616H2146V682H2144zM2146 616H2148V768H2146zM2148 606H2150V617H2148zM2150 478H2152V640H2150zM2152 591H2155V700H2152zM2155 592H2157V702H2155zM2157 616H2159V757H2157zM2159 616H2161V664H2159zM2161 616H2163V661H2161zM2163 604H2165V770H2163zM2165 616H2167V710H2165zM2167 344H2169V707H2167zM2169 606H2171V617H2169zM2171 442H2173V617H2171zM2173 488H2175V617H2173zM2175 568H2177V617H2175zM2177 567H2179V617H2177zM2179 564H2181V632H2179zM2181 480H2183V617H2181zM2183 543H2185V617H2183zM2185 548H2187V617H2185zM2187 570H2189V734H2187zM2189 570H2192V661H2189zM2192 542H2194V660H2192zM2194 539H2196V634H2194zM2196 538H2198V629H2196zM2198 533H2200V620H2198zM2200 515H2202V617H2200zM2202 553H2204V617H2202zM2204 570H2206V617H2204zM2206 596H2208V646H2206zM2208 614H2210V617H2208zM2210 526H2212V617H2210zM2212 604H2214V636H2212zM2214 615H2216V680H2214zM2216 585H2218V704H2216zM2218 557H2220V782H2218zM2220 467H2222V617H2220zM2222 517H2224V617H2222zM2224 519H2226V617H2224zM2226 549H2228V660H2226zM2228 616H2231V676H2228zM2231 592H2233V624H2231zM2233 606H2235V617H2233zM2235 599H2237V617H2235zM2237 593H2239V617H2237zM2239 513H2241V617H2239zM2241 523H2243V617H2241zM2243 514H2245V684H2243zM2245 593H2247V739H2245zM2247 616H2249V725H2247zM2249 616H2251V748H2249zM2251 616H2253V644H2251zM2253 392H2255V617H2253zM2255 544H2257V617H2255zM2257 577H2259V865H2257zM2259 461H2261V617H2259zM2261 464H2263V617H2261zM2263 411H2265V617H2263zM2265 605H2268V632H2265zM2268 616H2270V617H2268zM2270 577H2272V617H2270zM2272 616H2274V704H2272zM2274 616H2276V721H2274zM2276 547H2278V678H2276zM2278 384H2280V677H2278zM2280 549H2282V808H2280zM2282 543H2284V617H2282zM2284 554H2286V617H2284zM2286 507H2288V652H2286zM2288 616H2290V794H2288zM2290 616H2292V683H2290zM2292 578H2294V681H2292zM2294 616H2296V734H2294zM2296 447H2298V733H2296zM2298 451H2300V667H2298zM2300 558H2302V668H2300zM2302 616H2305V632H2302zM2305 616H2307V622H2305zM2307 495H2309V650H2307zM2309 616H2311V684H2309zM2311 616H2313V749H2311zM2313 616H2315V711H2313zM2315 585H2317V707H2315zM2317 616H2319V706H2317zM2319 616H2321V1102H2319zM2321 596H2323V618H2321z"/><path fill="#ffffff" d="M19.0 567.2H22.8V617.3H19.0zM35.3 566.7H39.1V617.3H35.3zM44.7 559.2H48.5V617.3H44.7zM71.9 553.5H75.7V617.3H71.9zM87.9 563.5H91.7V617.3H87.9zM112.9 578.5H116.7V617.3H112.9zM136.2 567.2H140.0V617.3H136.2zM149.3 574.7H153.1V617.3H149.3zM161.2 576.6H165.0V617.3H161.2zM178.4 599.5H182.2V617.3H178.4zM192.1 580.4H195.9V617.3H192.1zM201.5 578.5H205.3V617.3H201.5zM222.7 565.4H226.5V617.3H222.7zM232.5 597.7H236.3V617.3H232.5zM242.3 565.4H246.1V617.3H242.3zM261.6 515.4H265.4V617.3H261.6zM267.3 563.5H271.1V617.3H267.3zM280.8 546.0H284.6V617.3H280.8zM286.6 582.6H290.4V617.3H286.6zM292.6 557.8H296.4V617.3H292.6zM303.9 592.0H307.7V617.3H303.9zM311.6 526.7H315.4V617.3H311.6zM319.5 546.0H323.3V617.3H319.5zM327.0 551.6H330.8V617.3H327.0zM384.6 544.1H388.4V617.3H384.6zM390.4 505.6H394.2V617.3H390.4zM412.4 491.7H416.2V617.3H412.4zM421.2 555.4H425.0V617.3H421.2zM433.6 479.9H437.4V617.3H433.6zM443.0 516.9H446.8V617.3H443.0zM454.3 549.8H458.1V617.3H454.3zM465.8 559.2H469.6V617.3H465.8zM471.2 565.4H475.0V617.3H471.2zM24.6 617.3H28.4V653.1H24.6zM32.5 617.3H36.3V645.5H32.5zM53.2 617.3H57.0V647.4H53.2zM64.8 617.3H68.6V674.6H64.8zM80.0 617.3H83.8V677.5H80.0zM128.3 617.3H132.1V643.7H128.3zM146.1 617.3H149.9V670.5H146.1zM153.3 617.3H157.1V664.3H153.3zM182.7 617.3H186.5V681.8H182.7zM190.3 617.3H194.1V656.8H190.3zM278.9 617.3H282.7V651.2H278.9zM300.1 617.3H303.9V745.6H300.1zM305.8 617.3H309.6V749.4H305.8zM315.1 617.3H318.9V708.8H315.1zM332.6 617.3H336.4V660.6H332.6zM367.3 617.3H371.1V651.2H367.3zM381.8 617.3H385.6V793.3H381.8zM411.9 617.3H415.7V705.1H411.9zM427.3 617.3H431.1V751.3H427.3zM432.9 617.3H436.7V706.9H432.9zM437.8 617.3H441.6V768.5H437.8zM458.4 617.3H462.2V733.8H458.4zM468.2 617.3H472.0V718.2H468.2zM475.3 617.3H479.1V814.7H475.3zM485.1 563.1H488.9V617.3H485.1zM496.6 479.9H500.4V617.3H496.6zM510.1 543.9H513.9V617.3H510.1zM520.3 574.3H524.1V617.3H520.3zM535.7 520.9H539.5V617.3H535.7zM547.5 563.1H551.3V617.3H547.5zM560.6 449.6H564.4V617.3H560.6zM561.9 449.6H565.7V617.3H561.9zM568.6 499.1H572.4V617.3H568.6zM579.8 516.7H583.6V617.3H579.8zM589.4 422.4H593.2V617.3H589.4zM590.3 422.4H594.1V617.3H590.3zM599.0 511.3H602.8V617.3H599.0zM616.6 493.7H620.4V617.3H616.6zM622.6 545.5H626.4V617.3H622.6zM635.8 490.2H639.6V617.3H635.8zM653.3 516.7H657.1V617.3H653.3zM661.0 505.5H664.8V617.3H661.0zM669.0 543.9H672.8V617.3H669.0zM678.3 545.5H682.1V617.3H678.3zM688.2 536.6H692.0V617.3H688.2zM703.6 532.1H707.4V617.3H703.6zM714.7 576.5H718.5V617.3H714.7zM724.3 572.7H728.1V617.3H724.3zM733.9 539.8H737.7V617.3H733.9zM741.9 505.5H745.7V617.3H741.9zM757.3 520.9H761.1V617.3H757.3zM776.8 507.1H780.6V617.3H776.8zM784.1 534.3H787.9V617.3H784.1zM796.0 558.9H799.8V617.3H796.0zM807.5 557.7H811.3V617.3H807.5zM817.1 528.6H820.9V617.3H817.1zM845.9 474.5H849.7V617.3H845.9zM851.6 551.3H855.4V617.3H851.6zM852.9 551.3H856.7V617.3H852.9zM861.2 551.3H865.0V617.3H861.2zM868.9 563.1H872.7V617.3H868.9zM876.9 466.5H880.7V617.3H876.9zM880.4 445.4H884.2V617.3H880.4zM890.6 435.8H894.4V617.3H890.6zM897.7 561.5H901.5V617.3H897.7zM906.0 530.2H909.8V617.3H906.0zM921.0 574.9H924.8V617.3H921.0zM932.8 591.9H936.6V617.3H932.8zM946.6 557.3H950.4V617.3H946.6zM951.4 564.7H955.2V617.3H951.4zM483.9 617.3H487.7V722.4H483.9zM495.0 617.3H498.8V734.2H495.0zM509.1 617.3H512.9V737.4H509.1zM543.7 617.3H547.5V772.6H543.7zM567.0 617.3H570.8V749.2H567.0zM593.2 617.3H597.0V731.9H593.2zM618.8 617.3H622.6V668.0H618.8zM628.4 617.3H632.2V668.0H628.4zM633.8 617.3H637.6V666.4H633.8zM646.0 617.3H649.8V631.9H646.0zM651.7 617.3H655.5V633.5H651.7zM657.2 617.3H661.0V670.2H657.2zM666.8 617.3H670.6V722.4H666.8zM691.7 617.3H695.5V724.6H691.7zM723.4 617.3H727.2V834.3H723.4zM740.3 617.3H744.1V724.6H740.3zM751.5 617.3H755.3V718.2H751.5zM782.5 617.3H786.3V689.4H782.5zM797.9 617.3H801.7V654.9H797.9zM823.5 617.3H827.3V658.4H823.5zM829.2 617.3H833.0V705.4H829.2zM841.1 617.3H844.9V689.4H841.1zM871.4 617.3H875.2V820.5H871.4zM888.4 617.3H892.2V749.2H888.4zM893.8 617.3H897.6V716.6H893.8zM940.8 617.3H944.6V763.0H940.8zM949.8 617.3H953.6V630.9H949.8zM956.2 617.3H960.0V635.0H956.2zM965.1 580.7H968.9V617.3H965.1zM975.0 530.5H978.8V617.3H975.0zM996.5 524.7H1000.3V617.3H996.5zM1007.7 531.8H1011.5V617.3H1007.7zM1026.9 572.7H1030.7V617.3H1026.9zM1037.1 547.7H1040.9V617.3H1037.1zM1064.0 515.1H1067.8V617.3H1064.0zM1079.0 516.7H1082.8V617.3H1079.0zM1093.1 542.3H1096.9V617.3H1093.1zM1100.4 557.7H1104.2V617.3H1100.4zM1112.2 563.1H1116.0V617.3H1112.2zM1127.6 530.5H1131.4V617.3H1127.6zM1145.2 574.3H1149.0V617.3H1145.2zM1160.2 572.7H1164.0V617.3H1160.2zM1167.6 561.5H1171.4V617.3H1167.6zM1174.0 594.4H1177.8V617.3H1174.0zM1180.0 557.7H1183.8V617.3H1180.0zM1187.7 590.9H1191.5V617.3H1187.7zM1202.1 531.1H1205.9V617.3H1202.1zM1208.2 584.5H1212.0V617.3H1208.2zM1222.3 580.7H1226.1V617.3H1222.3zM1233.8 536.6H1237.6V617.3H1233.8zM1243.0 476.8H1246.8V617.3H1243.0zM1249.1 536.6H1252.9V617.3H1249.1zM1260.9 563.1H1264.7V617.3H1260.9zM1268.3 584.5H1272.1V617.3H1268.3zM1277.9 539.8H1281.7V617.3H1277.9zM1294.8 536.6H1298.6V617.3H1294.8zM1302.8 426.5H1306.6V617.3H1302.8zM1303.8 426.5H1307.6V617.3H1303.8zM1316.3 520.9H1320.1V617.3H1316.3zM1325.9 536.6H1329.7V617.3H1325.9zM1336.1 580.7H1339.9V617.3H1336.1zM1341.2 486.3H1345.0V617.3H1341.2zM1347.3 478.3H1351.1V617.3H1347.3zM1359.1 520.9H1362.9V617.3H1359.1zM1370.6 553.5H1374.4V617.3H1370.6zM1381.8 503.3H1385.6V617.3H1381.8zM1393.7 557.7H1397.5V617.3H1393.7zM1400.1 594.4H1403.9V617.3H1400.1zM1405.2 539.8H1409.0V617.3H1405.2zM1414.8 594.4H1418.6V617.3H1414.8zM1428.2 520.9H1432.0V617.3H1428.2zM1022.1 617.3H1025.9V647.2H1022.1zM1038.7 617.3H1042.5V676.9H1038.7zM1058.2 617.3H1062.0V722.4H1058.2zM1077.4 617.3H1081.2V718.2H1077.4zM1098.8 617.3H1102.6V653.3H1098.8zM1108.4 617.3H1112.2V654.9H1108.4zM1113.8 617.3H1117.6V629.6H1113.8zM1122.2 617.3H1126.0V681.4H1122.2zM1135.6 617.3H1139.4V707.0H1135.6zM1170.1 617.3H1173.9V675.7H1170.1zM1176.2 617.3H1180.0V689.4H1176.2zM1197.3 617.3H1201.1V708.9H1197.3zM1205.0 617.3H1208.8V633.5H1205.0zM1213.9 617.3H1217.7V743.8H1213.9zM1229.9 617.3H1233.7V670.2H1229.9zM1238.9 617.3H1242.7V677.6H1238.9zM1257.1 617.3H1260.9V647.2H1257.1zM1264.5 617.3H1268.3V671.8H1264.5zM1274.4 617.3H1278.2V758.8H1274.4zM1299.3 617.3H1303.1V700.6H1299.3zM1309.2 617.3H1313.0V633.5H1309.2zM1314.7 617.3H1318.5V704.4H1314.7zM1322.7 617.3H1326.5V747.6H1322.7zM1339.6 617.3H1343.4V712.4H1339.6zM1353.4 617.3H1357.2V655.8H1353.4zM1364.9 617.3H1368.7V694.9H1364.9zM1378.0 617.3H1381.8V681.4H1378.0zM1391.4 617.3H1395.2V622.3H1391.4zM1397.8 617.3H1401.6V654.2H1397.8zM1403.3 617.3H1407.1V663.8H1403.3zM1412.8 617.3H1416.6V647.2H1412.8zM1418.6 617.3H1422.4V687.2H1418.6zM1430.8 617.3H1434.6V655.8H1430.8zM1443.9 563.1H1447.7V617.3H1443.9zM1449.6 578.1H1453.4V617.3H1449.6zM1457.3 555.7H1461.1V617.3H1457.3zM1468.8 553.5H1472.6V617.3H1468.8zM1480.3 579.1H1484.1V617.3H1480.3zM1486.1 609.5H1489.9V617.3H1486.1zM1491.8 532.1H1495.6V617.3H1491.8zM1506.9 561.5H1510.7V617.3H1506.9zM1518.7 561.5H1522.5V617.3H1518.7zM1525.1 603.7H1528.9V617.3H1525.1zM1530.8 563.1H1534.6V617.3H1530.8zM1544.0 487.9H1547.8V617.3H1544.0zM1549.4 512.9H1553.2V617.3H1549.4zM1555.1 437.7H1558.9V617.3H1555.1zM1556.4 437.7H1560.2V617.3H1556.4zM1561.5 509.4H1565.3V617.3H1561.5zM1573.1 551.9H1576.9V617.3H1573.1zM1580.4 527.0H1584.2V617.3H1580.4zM1588.4 566.9H1592.2V617.3H1588.4zM1598.0 563.1H1601.8V617.3H1598.0zM1603.8 582.3H1607.6V617.3H1603.8zM1611.4 543.9H1615.2V617.3H1611.4zM1618.8 547.1H1622.6V617.3H1618.8zM1632.9 467.2H1636.7V617.3H1632.9zM1640.2 507.1H1644.0V617.3H1640.2zM1651.7 493.7H1655.5V617.3H1651.7zM1661.3 532.7H1665.1V617.3H1661.3zM1671.2 503.3H1675.0V617.3H1671.2zM1676.7 507.1H1680.5V617.3H1676.7zM1694.6 516.7H1698.4V617.3H1694.6zM1700.3 493.7H1704.1V617.3H1700.3zM1709.9 588.0H1713.7V617.3H1709.9zM1721.4 522.5H1725.2V617.3H1721.4zM1733.0 553.5H1736.8V617.3H1733.0zM1738.7 556.7H1742.5V617.3H1738.7zM1750.5 426.5H1754.3V617.3H1750.5zM1762.1 543.9H1765.9V617.3H1762.1zM1767.5 536.6H1771.3V617.3H1767.5zM1774.8 584.5H1778.6V617.3H1774.8zM1809.7 468.8H1813.5V617.3H1809.7zM1820.3 507.1H1824.1V617.3H1820.3zM1827.3 485.7H1831.1V617.3H1827.3zM1839.1 424.0H1842.9V617.3H1839.1zM1852.2 491.8H1856.0V617.3H1852.2zM1866.0 443.2H1869.8V617.3H1866.0zM1882.6 470.4H1886.4V617.3H1882.6zM1892.8 524.1H1896.6V617.3H1892.8zM1900.2 555.1H1904.0V617.3H1900.2zM1906.9 485.7H1910.7V617.3H1906.9zM1914.6 468.8H1918.4V617.3H1914.6zM1464.6 617.3H1468.4V639.8H1464.6zM1484.5 617.3H1488.3V633.5H1484.5zM1489.9 617.3H1493.7V626.4H1489.9zM1499.8 617.3H1503.6V684.0H1499.8zM1521.2 617.3H1525.0V626.4H1521.2zM1551.3 617.3H1555.1V787.0H1551.3zM1565.4 617.3H1569.2V803.6H1565.4zM1570.8 617.3H1574.6V647.2H1570.8zM1593.2 617.3H1597.0V693.6H1593.2zM1615.6 617.3H1619.4V710.8H1615.6zM1624.2 617.3H1628.0V817.3H1624.2zM1646.3 617.3H1650.1V806.1H1646.3zM1659.7 617.3H1663.5V641.4H1659.7zM1669.0 617.3H1672.8V703.2H1669.0zM1686.9 617.3H1690.7V755.6H1686.9zM1711.8 617.3H1715.6V758.8H1711.8zM1729.1 617.3H1732.9V679.8H1729.1zM1744.1 617.3H1747.9V635.7H1744.1zM1765.6 617.3H1769.4V749.2H1765.6zM1789.2 617.3H1793.0V670.2H1789.2zM1796.3 617.3H1800.1V703.2H1796.3zM1804.3 617.3H1808.1V782.2H1804.3zM1835.0 617.3H1838.8V757.5H1835.0zM1857.7 617.3H1861.5V627.7H1857.7zM1871.7 617.3H1875.5V838.1H1871.7zM1879.4 617.3H1883.2V855.7H1879.4zM1885.2 617.3H1889.0V651.0H1885.2zM1898.6 617.3H1902.4V626.4H1898.6zM1904.4 617.3H1908.2V689.4H1904.4zM1912.0 617.3H1915.8V753.4H1912.0zM1916.8 617.3H1920.6V631.9H1916.8zM1927.5 543.9H1931.3V617.3H1927.5zM1933.3 449.6H1937.1V617.3H1933.3zM1946.7 485.7H1950.5V617.3H1946.7zM1954.7 507.1H1958.5V617.3H1954.7zM1964.3 441.6H1968.1V617.3H1964.3zM1980.0 437.7H1983.8V617.3H1980.0zM2012.3 404.8H2016.1V617.3H2012.3zM2022.2 416.6H2026.0V617.3H2022.2zM2029.2 433.6H2033.0V617.3H2029.2zM2035.0 451.2H2038.8V617.3H2035.0zM2043.6 482.2H2047.4V617.3H2043.6zM2068.2 507.1H2072.0V617.3H2068.2zM2076.2 512.9H2080.0V617.3H2076.2zM2082.0 426.5H2085.8V617.3H2082.0zM2095.4 503.3H2099.2V617.3H2095.4zM2102.8 451.2H2106.6V617.3H2102.8zM2112.4 605.6H2116.2V617.3H2112.4zM2126.4 466.5H2130.2V617.3H2126.4zM2134.1 420.8H2137.9V617.3H2134.1zM2149.1 478.3H2152.9V617.3H2149.1zM2161.0 603.7H2164.8V617.3H2161.0zM2180.2 479.9H2184.0V617.3H2180.2zM2199.3 515.1H2203.1V617.3H2199.3zM2208.9 526.3H2212.7V617.3H2208.9zM2218.9 466.5H2222.7V617.3H2218.9zM2230.7 591.9H2234.5V617.3H2230.7zM2237.7 512.9H2241.5V617.3H2237.7zM2262.7 411.2H2266.5V617.3H2262.7zM2269.1 576.5H2272.9V617.3H2269.1zM2284.4 507.1H2288.2V617.3H2284.4zM2290.5 578.1H2294.3V617.3H2290.5zM2296.2 447.3H2300.0V617.3H2296.2zM2305.5 495.3H2309.3V617.3H2305.5zM2314.8 584.5H2318.6V617.3H2314.8zM1922.1 617.3H1925.9V666.4H1922.1zM1931.7 617.3H1935.5V764.6H1931.7zM1942.9 617.3H1946.7V757.2H1942.9zM1960.1 617.3H1963.9V810.9H1960.1zM1989.2 617.3H1993.0V782.2H1989.2zM2003.0 617.3H2006.8V814.8H2003.0zM2027.6 617.3H2031.4V734.2H2027.6zM2072.4 617.3H2076.2V724.6H2072.4zM2097.3 617.3H2101.1V816.7H2097.3zM2108.5 617.3H2112.3V643.7H2108.5zM2120.0 617.3H2123.8V675.7H2120.0zM2128.0 617.3H2131.8V763.0H2128.0zM2139.5 617.3H2143.3V730.3H2139.5zM2145.0 617.3H2148.8V768.4H2145.0zM2154.9 617.3H2158.7V757.2H2154.9zM2162.3 617.3H2166.1V770.3H2162.3zM2177.9 617.3H2181.7V631.9H2177.9zM2185.9 617.3H2189.7V734.2H2185.9zM2204.5 617.3H2208.3V645.6H2204.5zM2216.9 617.3H2220.7V782.2H2216.9zM2227.8 617.3H2231.6V675.7H2227.8zM2247.6 617.3H2251.4V747.6H2247.6zM2264.3 617.3H2268.1V631.9H2264.3zM2278.0 617.3H2281.8V807.7H2278.0zM2287.6 617.3H2291.4V794.0H2287.6zM2295.3 617.3H2299.1V732.6H2295.3zM2309.0 617.3H2312.8V749.2H2309.0zM1781.6 318.2H1785.4V617.3H1781.6zM1784.7 262.3H1788.5V617.3H1784.7zM1802.3 358.8H1806.1V617.3H1802.3zM1846.8 250.9H1850.6V617.3H1846.8zM1873.9 360.7H1877.7V617.3H1873.9zM1992.9 324.1H1996.7V617.3H1992.9zM2062.6 304.6H2066.4V617.3H2062.6zM2166.7 343.6H2170.5V617.3H2166.7zM2251.6 391.9H2255.4V617.3H2251.6zM2276.5 383.8H2280.3V617.3H2276.5zM1773.1 617.3H1776.9V1096.0H1773.1zM1777.1 617.3H1780.9V1212.0H1777.1zM1780.1 617.3H1783.9V1056.0H1780.1zM1844.8 617.3H1848.6V868.8H1844.8zM1975.7 617.3H1979.5V868.8H1975.7zM2020.3 617.3H2024.1V905.2H2020.3zM2049.0 617.3H2052.8V888.2H2049.0zM2064.5 617.3H2068.3V889.7H2064.5zM2257.4 617.3H2261.2V864.9H2257.4zM555.1 617.3H558.9V1009.3H555.1zM855.7 617.3H859.5V866.8H855.7zM1289.4 617.3H1293.2V869.0H1289.4zM1330.0 617.3H1333.8V878.9H1330.0zM1553.5 617.3H1557.3V914.9H1553.5zM2318.9 617.3H2322.7V1102.5H2318.9z"/>
<g id="legend">
<rect x="25" y="245" width="452" height="150" rx="5" fill="#171717" fill-opacity="0.7"/>
<g stroke="#8c8c8c" stroke-width="1.7" fill="none">
<rect x="39.7" y="267.3" width="11.4" height="11.4"/><path d="M42.5 273H48.3"/>
<path d="M45.4 279V372M45.4 305H52M45.4 336.2H52M45.4 366.8H52"/>
</g>
<rect x="58" y="262.2" width="23" height="23.2" fill="#fff"/>
<g stroke="#9a9a9a" stroke-width="2" fill="none">
<path d="M63.9 294.4H76.7M70.3 294.4V315.6"/>
<path d="M58.4 336.2H80.6"/><circle cx="69.4" cy="336.2" r="3.2" fill="#777" stroke-width="1.6"/>
<path d="M70.3 354.6V377M63.9 376.6H76.7"/><path d="M65.5 376.6L70.3 372.5L75 376.6z" fill="#9a9a9a" stroke="none"/>
</g>
<text x="89.5" y="284.7" font-size="26.5" fill="#f4f4f4" textLength="274.0" lengthAdjust="spacingAndGlyphs">Price Change 1 Day Net</text>
<text x="376.0" y="284.7" font-size="26.5" fill="#f4f4f4" textLength="86.0" lengthAdjust="spacingAndGlyphs">-8.134T</text>
<text x="89.5" y="315.7" font-size="26.5" fill="#f4f4f4" textLength="204.0" lengthAdjust="spacingAndGlyphs">High on 11/08/20</text>
<text x="374.0" y="315.7" font-size="26.5" fill="#f4f4f4" textLength="74.0" lengthAdjust="spacingAndGlyphs">6.138T</text>
<text x="89.5" y="346.4" font-size="26.5" fill="#f4f4f4" textLength="91.0" lengthAdjust="spacingAndGlyphs">Average</text>
<text x="374.0" y="346.4" font-size="26.5" fill="#f4f4f4" textLength="90.0" lengthAdjust="spacingAndGlyphs">77.739B</text>
<text x="89.5" y="377.4" font-size="26.5" fill="#f4f4f4" textLength="199.0" lengthAdjust="spacingAndGlyphs">Low on 03/15/20</text>
<text x="376.0" y="377.4" font-size="26.5" fill="#f4f4f4" textLength="86.0" lengthAdjust="spacingAndGlyphs">-9.958T</text>
</g>
<g id="annotate"><rect x="1193" y="239" width="154" height="38.5" fill="#202020" fill-opacity="0.85"/>
<path d="M1209 265L1222 251L1224 253L1211 266z" fill="#8a8a8a" stroke="#8a8a8a" stroke-width="1"/><path d="M1217 265.5H1226" stroke="#8a8a8a" stroke-width="1.6"/>
<text x="1243.0" y="266.0" font-size="25.0" fill="#e6e6e6" textLength="97.0" lengthAdjust="spacingAndGlyphs">Annotate</text>
</g>
<g id="axes" fill="#fff" stroke="none">
<rect x="2369" y="237" width="2" height="1054" fill="#fff"/>
<rect x="18" y="1289.5" width="2353" height="2" fill="#fff"/>
<path d="M2371 256.7L2386 261.2L2371 265.7z"/>
<text x="2388.0" y="279.9" font-size="41.0" fill="#fff" textLength="46.0" lengthAdjust="spacingAndGlyphs">6T</text>
<rect x="2371" y="319.5" width="7" height="2"/>
<path d="M2371 375.4L2386 379.9L2371 384.4z"/>
<text x="2388.0" y="394.1" font-size="41.0" fill="#fff" textLength="46.0" lengthAdjust="spacingAndGlyphs">4T</text>
<rect x="2371" y="438.2" width="7" height="2"/>
<path d="M2371 494.1L2386 498.6L2371 503.1z"/>
<text x="2388.0" y="512.8" font-size="41.0" fill="#fff" textLength="46.0" lengthAdjust="spacingAndGlyphs">2T</text>
<rect x="2371" y="556.9" width="7" height="2"/>
<path d="M2371 612.8L2386 617.3L2371 621.8z"/>
<text x="2388.0" y="631.5" font-size="41.0" fill="#fff" textLength="22.5" lengthAdjust="spacingAndGlyphs">0</text>
<rect x="2371" y="676.1" width="7" height="2"/>
<path d="M2371 732.5L2386 737.0L2371 741.5z"/>
<rect x="2393" y="735.5" width="13" height="3"/>
<text x="2409.0" y="751.5" font-size="41.0" fill="#fff" textLength="46.0" lengthAdjust="spacingAndGlyphs">2T</text>
<rect x="2371" y="795.8" width="7" height="2"/>
<path d="M2371 852.1L2386 856.6L2371 861.1z"/>
<rect x="2393" y="855.1" width="13" height="3"/>
<text x="2409.0" y="871.1" font-size="41.0" fill="#fff" textLength="46.0" lengthAdjust="spacingAndGlyphs">4T</text>
<rect x="2371" y="915.4" width="7" height="2"/>
<path d="M2371 971.8L2386 976.3L2371 980.8z"/>
<rect x="2393" y="974.8" width="13" height="3"/>
<text x="2409.0" y="990.8" font-size="41.0" fill="#fff" textLength="46.0" lengthAdjust="spacingAndGlyphs">6T</text>
<rect x="2371" y="1035.1" width="7" height="2"/>
<path d="M2371 1091.4L2386 1095.9L2371 1100.4z"/>
<rect x="2393" y="1094.4" width="13" height="3"/>
<text x="2409.0" y="1110.4" font-size="41.0" fill="#fff" textLength="46.0" lengthAdjust="spacingAndGlyphs">8T</text>
<rect x="2371" y="1154.8" width="7" height="2"/>
<path d="M2371 1211.1L2386 1215.6L2371 1220.1z"/>
<rect x="2393" y="1214.1" width="13" height="3"/>
<text x="2409.0" y="1230.1" font-size="41.0" fill="#fff" textLength="68.0" lengthAdjust="spacingAndGlyphs">10T</text>
<rect x="2371" y="1274.4" width="7" height="2"/>
</g>
<g id="years">
<rect x="44" y="1285" width="2" height="105" fill="#d0d0d0"/>
<text x="68.5" y="1379.5" font-size="42.5" fill="#fff" textLength="61.0" lengthAdjust="spacingAndGlyphs">'04</text>
<rect x="150" y="1285" width="2" height="105" fill="#d0d0d0"/>
<text x="174.5" y="1379.5" font-size="42.5" fill="#fff" textLength="61.0" lengthAdjust="spacingAndGlyphs">'05</text>
<rect x="257" y="1285" width="2" height="105" fill="#d0d0d0"/>
<text x="281.5" y="1379.5" font-size="42.5" fill="#fff" textLength="61.0" lengthAdjust="spacingAndGlyphs">'06</text>
<rect x="367" y="1285" width="2" height="105" fill="#d0d0d0"/>
<text x="391.5" y="1379.5" font-size="42.5" fill="#fff" textLength="61.0" lengthAdjust="spacingAndGlyphs">'07</text>
<rect x="473" y="1285" width="2" height="105" fill="#d0d0d0"/>
<text x="497.5" y="1379.5" font-size="42.5" fill="#fff" textLength="61.0" lengthAdjust="spacingAndGlyphs">'08</text>
<rect x="580" y="1285" width="2" height="105" fill="#d0d0d0"/>
<text x="604.5" y="1379.5" font-size="42.5" fill="#fff" textLength="61.0" lengthAdjust="spacingAndGlyphs">'09</text>
<rect x="686" y="1285" width="2" height="105" fill="#d0d0d0"/>
<text x="710.5" y="1379.5" font-size="42.5" fill="#fff" textLength="61.0" lengthAdjust="spacingAndGlyphs">'10</text>
<rect x="793" y="1285" width="2" height="105" fill="#d0d0d0"/>
<text x="817.5" y="1379.5" font-size="42.5" fill="#fff" textLength="61.0" lengthAdjust="spacingAndGlyphs">'11</text>
<rect x="901" y="1285" width="2" height="105" fill="#d0d0d0"/>
<text x="925.5" y="1379.5" font-size="42.5" fill="#fff" textLength="61.0" lengthAdjust="spacingAndGlyphs">'12</text>
<rect x="1008" y="1285" width="2" height="105" fill="#d0d0d0"/>
<text x="1032.5" y="1379.5" font-size="42.5" fill="#fff" textLength="61.0" lengthAdjust="spacingAndGlyphs">'13</text>
<rect x="1114" y="1285" width="2" height="105" fill="#d0d0d0"/>
<text x="1138.5" y="1379.5" font-size="42.5" fill="#fff" textLength="61.0" lengthAdjust="spacingAndGlyphs">'14</text>
<rect x="1222" y="1285" width="2" height="105" fill="#d0d0d0"/>
<text x="1246.5" y="1379.5" font-size="42.5" fill="#fff" textLength="61.0" lengthAdjust="spacingAndGlyphs">'15</text>
<rect x="1328" y="1285" width="2" height="105" fill="#d0d0d0"/>
<text x="1352.5" y="1379.5" font-size="42.5" fill="#fff" textLength="61.0" lengthAdjust="spacingAndGlyphs">'16</text>
<rect x="1434" y="1285" width="2" height="105" fill="#d0d0d0"/>
<text x="1458.5" y="1379.5" font-size="42.5" fill="#fff" textLength="61.0" lengthAdjust="spacingAndGlyphs">'17</text>
<rect x="1544" y="1285" width="2" height="105" fill="#d0d0d0"/>
<text x="1568.5" y="1379.5" font-size="42.5" fill="#fff" textLength="61.0" lengthAdjust="spacingAndGlyphs">'18</text>
<rect x="1650" y="1285" width="2" height="105" fill="#d0d0d0"/>
<text x="1674.5" y="1379.5" font-size="42.5" fill="#fff" textLength="61.0" lengthAdjust="spacingAndGlyphs">'19</text>
<rect x="1756" y="1285" width="2" height="105" fill="#d0d0d0"/>
<text x="1780.5" y="1379.5" font-size="42.5" fill="#fff" textLength="61.0" lengthAdjust="spacingAndGlyphs">'20</text>
<rect x="1864" y="1285" width="2" height="105" fill="#d0d0d0"/>
<text x="1888.5" y="1379.5" font-size="42.5" fill="#fff" textLength="61.0" lengthAdjust="spacingAndGlyphs">'21</text>
<rect x="1970" y="1285" width="2" height="105" fill="#d0d0d0"/>
<text x="1994.5" y="1379.5" font-size="42.5" fill="#fff" textLength="61.0" lengthAdjust="spacingAndGlyphs">'22</text>
<rect x="2076" y="1285" width="2" height="105" fill="#d0d0d0"/>
<text x="2100.5" y="1379.5" font-size="42.5" fill="#fff" textLength="61.0" lengthAdjust="spacingAndGlyphs">'23</text>
<rect x="2186" y="1285" width="2" height="105" fill="#d0d0d0"/>
<text x="2210.5" y="1379.5" font-size="42.5" fill="#fff" textLength="61.0" lengthAdjust="spacingAndGlyphs">'24</text>
<rect x="2292" y="1285" width="2" height="105" fill="#d0d0d0"/>
<text x="2316.5" y="1379.5" font-size="42.5" fill="#fff" textLength="61.0" lengthAdjust="spacingAndGlyphs">'25</text>
</g>
<g id="last"><path d="M2374 1103.5L2387 1080H2547V1127.500H2387z" fill="#fff"/>
<text x="2394.0" y="1118.5" font-size="41.0" fill="#000" textLength="145.0" lengthAdjust="spacingAndGlyphs">-8.134T</text>
</g>
</svg>
<span class="t" style="left:28.0px;top:1397.9px;font-size:26.2px;color:#ffffff;transform:scaleX(1.100);font-weight:bold;">Source: Bloomberg</span>
</body></html>
